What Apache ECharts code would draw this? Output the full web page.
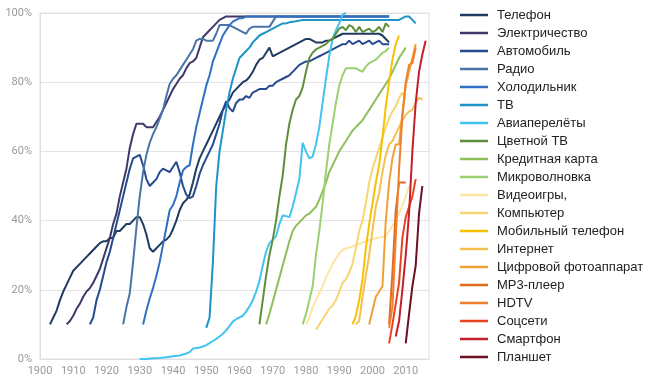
<!DOCTYPE html>
<html><head><meta charset="utf-8">
<script src="https://cdn.jsdelivr.net/npm/echarts@6/dist/echarts.min.js"></script>
<style>html,body{margin:0;padding:0;background:#fff}#c{width:653px;height:384px}</style>
</head><body><div id="c"></div>
<script>
const yTicks = ['0%','20%','40%','60%','80%','100%'];
const names = ['Телефон','Электричество','Автомобиль','Радио','Холодильник','ТВ','Авиаперелёты','Цветной ТВ','Кредитная карта','Микроволновка','Видеоигры,','Компьютер','Мобильный телефон','Интернет','Цифровой фотоаппарат','MP3-плеер','HDTV','Соцсети','Смартфон','Планшет'];
const colors = ['#1f3b60','#3d3a6a','#254a8e','#4a74a8','#2f6fc4','#1f93c8','#43c3ef','#5e8e3c','#8dc05a','#9bd070','#fbe6a4','#f6d673','#f6c200','#f4c050','#f2a036','#e06a1e','#f07f2e','#e8441f','#c41f2c','#6b1020'];

const telephone = [[1903,10],[1904,12],[1905,14],[1906,17],[1907,19.5],[1908,21.5],[1909,23.5],[1910,25.5],[1911,26.5],[1912,27.5],[1913,28.5],[1914,29.5],[1915,30.5],[1916,31.5],[1917,32.5],[1918,33.5],[1919,34],[1920,34],[1921,35],[1922,35],[1923,37],[1924,37],[1925,38],[1926,39],[1927,39],[1928,40],[1929,41],[1930,41],[1931,39],[1932,36],[1933,32],[1934,31],[1935,32],[1936,33],[1937,34],[1938,34.5],[1939,35.5],[1940,37.5],[1941,40],[1942,43],[1943,45],[1944,46],[1945,47.5],[1946,51],[1947,55],[1948,58],[1949,60],[1950,62],[1951,64],[1952,66],[1953,68],[1954,70],[1955,72],[1956,73.5],[1957,75],[1958,77],[1959,78],[1960,79],[1961,80],[1962,80.5],[1963,81.5],[1964,83],[1965,85],[1966,86.5],[1967,87],[1968,88.5],[1969,90],[1970,87.5],[1971,88],[1972,88.5],[1973,89],[1974,89.5],[1975,90],[1976,90.5],[1977,91],[1978,91.5],[1979,92],[1980,92.5],[1981,92.5],[1982,92],[1983,91.5],[1984,91.5],[1985,91.5],[1986,92],[1987,92],[1988,92.5],[1989,93],[1990,93.5],[1991,94],[1992,94],[1993,94],[1994,94],[1995,94],[1996,94],[1997,94],[1998,94],[1999,94],[2000,94],[2001,94],[2002,94],[2003,93.5],[2004,92.5],[2005,91.5]];
const electricity = [[1908,10],[1909,11],[1910,12.5],[1911,14.5],[1912,16],[1913,18],[1914,19.5],[1915,20.5],[1916,22],[1917,24],[1918,26],[1919,29],[1920,32],[1921,35],[1922,39],[1923,42],[1924,47],[1925,51],[1926,55],[1927,61],[1928,65],[1929,68],[1930,68],[1931,68],[1932,67],[1933,67],[1934,67],[1935,68.5],[1936,70],[1937,72],[1938,74],[1939,76],[1940,78],[1941,79.5],[1942,81],[1943,82],[1944,84],[1945,85.5],[1946,86],[1947,87],[1948,90],[1949,93],[1950,94],[1951,95],[1952,96],[1953,97],[1954,98],[1955,98.5],[1956,99],[1970,99],[1990,99],[2005,99]];
const automobile = [[1915,10],[1916,12],[1917,17],[1918,20],[1919,24],[1920,28],[1921,31],[1922,35],[1923,39],[1924,43],[1925,47],[1926,51],[1927,55],[1928,58],[1929,58.5],[1930,59],[1931,56],[1932,52],[1933,50],[1934,51],[1935,52],[1936,54],[1937,55],[1938,54.5],[1939,54],[1940,55.5],[1941,57],[1942,54],[1943,50],[1944,47.5],[1945,46.5],[1946,47],[1947,50],[1948,53.5],[1949,56],[1950,58],[1951,60],[1952,62],[1953,65],[1954,68],[1955,72],[1956,74.5],[1957,72.5],[1958,71.5],[1959,74],[1960,75],[1961,75],[1962,76],[1963,75.5],[1964,77],[1965,77.5],[1966,78],[1967,78],[1968,78],[1969,79],[1970,79],[1971,80],[1972,80.5],[1973,81],[1974,81.5],[1975,82],[1976,83],[1977,84],[1978,85],[1979,85.5],[1980,86],[1981,86],[1982,86.5],[1983,87],[1984,87.5],[1985,88],[1986,88.5],[1987,89],[1988,89.5],[1989,90],[1990,90.5],[1991,91],[1992,91],[1993,92],[1994,91],[1995,91.5],[1996,92],[1997,91],[1998,91.5],[1999,92],[2000,91],[2001,91.5],[2002,92],[2003,91],[2004,91],[2005,91]];
const radio = [[1925,10],[1926,15],[1927,19],[1928,28],[1929,38],[1930,47],[1931,54],[1932,59],[1933,62.5],[1934,65],[1935,67],[1936,69.5],[1937,72],[1938,76],[1939,79.5],[1940,81],[1941,82],[1942,83.5],[1943,85],[1944,86.5],[1945,88],[1946,89.5],[1947,92],[1948,92.5],[1949,92.5],[1950,92],[1951,92],[1952,92],[1953,94],[1954,96.5],[1955,96.5],[1956,96.5],[1957,96.5],[1958,96],[1959,95.5],[1960,95],[1961,94.5],[1962,94],[1963,95.5],[1964,96],[1969,96],[1970,97.5],[1971,99],[1990,99],[2005,99]];
const fridge = [[1931,10],[1932,14],[1933,17.5],[1934,20.5],[1935,24],[1936,28],[1937,33],[1938,38],[1939,43],[1940,44.5],[1941,47],[1942,51],[1943,54.5],[1944,55.5],[1945,56],[1946,62],[1947,67],[1948,71],[1949,75],[1950,79],[1951,82],[1952,86],[1953,88.5],[1954,91],[1955,93.5],[1956,95],[1957,96.5],[1958,97.5],[1959,98],[1960,98.5],[1961,98.5],[1962,99],[1980,99],[2005,99]];
const tv = [[1950,9],[1951,12],[1952,28],[1953,50],[1954,60],[1955,66],[1956,72],[1957,77],[1958,81],[1959,84],[1960,87],[1961,88],[1962,89],[1963,90],[1964,91.5],[1965,92.5],[1966,93.5],[1967,94],[1968,94.5],[1969,95],[1970,95.5],[1971,96],[1972,96.5],[1973,97],[1974,97],[1975,97.3],[1976,97.5],[1977,97.6],[1978,97.8],[1979,98],[1990,98],[2008,98],[2009,98.5],[2010,99],[2011,99],[2012,98],[2013,97]];
const airTravel = [[1930,0],[1932,0],[1934,0.2],[1936,0.3],[1938,0.5],[1940,0.8],[1942,1],[1943,1.3],[1944,1.6],[1945,2],[1946,3],[1947,3.2],[1948,3.3],[1949,3.6],[1950,4],[1951,4.6],[1952,5.2],[1953,5.8],[1954,6.5],[1955,7.3],[1956,8.3],[1957,9.5],[1958,10.8],[1959,11.5],[1960,12],[1961,12.5],[1962,13.7],[1963,15.2],[1964,17],[1965,19.5],[1966,22.5],[1967,27],[1968,31],[1969,33.5],[1970,34.5],[1971,35.5],[1972,39],[1973,41.5],[1974,41.3],[1975,41],[1976,44],[1977,48],[1978,52],[1979,62.5],[1980,60],[1981,58],[1982,58.5],[1983,62],[1984,67],[1985,74],[1986,81],[1987,87.5],[1988,92.5],[1989,95],[1990,97],[1991,99.5],[1992,100]];
const colorTv = [[1966,10],[1967,17],[1968,24],[1969,30],[1970,34.5],[1971,40],[1972,47],[1973,53],[1974,62],[1975,68],[1976,72],[1977,75],[1978,76],[1979,78.5],[1980,83],[1981,87],[1982,88.5],[1983,89.5],[1984,90],[1985,90.5],[1986,91],[1987,92],[1988,92.5],[1989,94],[1990,95.5],[1991,96],[1992,95],[1993,96.5],[1994,96],[1995,94.5],[1996,96],[1997,94.5],[1998,95],[1999,95.5],[2000,94.5],[2001,95],[2002,96],[2003,94.5],[2004,97],[2005,96]];
const creditCard = [[1968,10],[1969,13],[1970,16.5],[1971,20],[1972,23.5],[1973,27],[1974,30.5],[1975,34],[1976,37],[1977,38.5],[1978,39.5],[1979,40.5],[1980,41.5],[1981,42],[1982,43],[1983,44],[1984,46],[1985,48.5],[1986,51],[1987,54],[1988,56],[1989,58],[1990,60],[1991,61.5],[1992,63],[1993,64.5],[1994,66],[1995,67],[1996,68],[1997,69],[1998,70.5],[1999,72],[2000,73.5],[2001,75],[2002,76.5],[2003,78],[2004,79.5],[2005,81],[2006,83],[2007,85],[2008,87],[2009,88.5],[2010,90]];
const microwave = [[1979,10],[1980,13],[1981,17],[1982,21],[1983,30],[1984,37],[1985,45],[1986,54],[1987,62],[1988,68],[1989,74],[1990,79],[1991,82],[1992,84],[1993,84],[1994,84],[1995,84],[1996,83.5],[1997,83],[1998,84.5],[1999,85.5],[2000,86],[2001,86.5],[2002,87.5],[2003,88.5],[2004,89],[2005,90]];
const videoGames = [[1980,10],[1981,12],[1982,15],[1983,17],[1984,19],[1985,21],[1986,23.5],[1987,25.5],[1988,27.5],[1989,29],[1990,30.5],[1991,31.5],[1992,32],[1993,32.2],[1994,32.5],[1995,33],[1996,33.3],[1997,33.6],[1998,34],[1999,34.3],[2000,34.6],[2001,34.9],[2002,35.1],[2003,35.3],[2004,35.5],[2005,37],[2006,38.5],[2007,40],[2008,42],[2009,44.5],[2010,47],[2011,50]];
const computer = [[1983,8.5],[1984,10],[1985,11.5],[1986,13],[1987,14.5],[1988,15.5],[1989,17],[1990,19.5],[1991,22],[1992,23],[1993,25],[1994,27.5],[1995,32],[1996,37],[1997,40],[1998,45],[1999,51],[2000,55],[2001,58],[2002,61],[2003,64],[2004,67],[2005,69.5],[2006,71.5],[2007,73],[2008,75.5],[2009,77],[2010,75]];
const mobile = [[1994,10],[1995,12.5],[1996,17],[1997,23],[1998,32],[1999,39],[2000,45],[2001,51],[2002,56],[2003,64],[2004,73],[2005,80],[2006,86.5],[2007,91],[2008,93.5]];
const internet = [[1995,10],[1996,11],[1997,18],[1998,24],[1999,30],[2000,37],[2001,44],[2002,48],[2003,54],[2004,59],[2005,62],[2006,63],[2007,65],[2008,67],[2009,69],[2010,70.5],[2011,71.5],[2012,72],[2013,74],[2014,75.5],[2015,75]];
const camera = [[1999,10],[2000,14],[2001,18],[2002,19.5],[2003,21],[2004,40],[2005,51],[2006,58],[2007,62],[2008,62],[2009,71],[2010,79],[2011,83],[2012,87],[2013,91]];
const mp3 = [[2005,10],[2006,25],[2007,43],[2008,51],[2009,51],[2010,51]];
const hdtv = [[2005,9],[2006,15],[2007,35],[2008,55],[2009,70],[2010,80],[2011,85],[2012,85.5],[2013,90]];
const social = [[2005,4.5],[2006,10],[2007,16],[2008,22],[2009,35],[2010,41],[2011,44],[2012,47],[2013,52]];
const smartphone = [[2007,6.5],[2008,11],[2009,20],[2010,30],[2011,42],[2012,60],[2013,74],[2014,83],[2015,88],[2016,92]];
const tablet = [[2010,4.5],[2011,13],[2012,21],[2013,27],[2014,42],[2015,50]];

const seriesData = [telephone,electricity,automobile,radio,fridge,tv,airTravel,colorTv,creditCard,microwave,videoGames,computer,mobile,internet,camera,mp3,hdtv,social,smartphone,tablet];

const chart = echarts.init(document.getElementById('c'), null, {renderer:'canvas'});
chart.setOption({
  animation:false,
  backgroundColor:'#fff',
  color: colors,
  grid:{left:40,right:224,top:13,bottom:25,show:true,borderColor:'#dedede',borderWidth:1},
  legend:{
    orient:'vertical', left:455, top:3,
    icon:'rect', itemWidth:28, itemHeight:2.5, itemGap:4,
    textStyle:{fontFamily:'Liberation Sans, Arial, sans-serif', fontSize:13, color:'#222', lineHeight:14, padding:[0,0,0,4]},
    data:names
  },
  xAxis:{
    type:'value', min:1900, max:2017, interval:10,
    axisLine:{show:true,lineStyle:{color:'#dedede'}},
    axisTick:{show:false},
    splitLine:{show:false},
    axisLabel:{color:'#9a9a9a',fontSize:11,fontFamily:'Roboto, sans-serif',showMaxLabel:false,margin:7,formatter:v=>String(v)}
  },
  yAxis:{
    type:'value', min:0, max:100, interval:20,
    axisLine:{show:true,lineStyle:{color:'#dedede'}},
    axisTick:{show:false},
    splitLine:{lineStyle:{color:'#e3e3e3'}},
    axisLabel:{color:'#9a9a9a',fontSize:11,fontFamily:'Roboto, sans-serif',margin:8,formatter:v=>yTicks[v/20]}
  },
  series: names.map((n,i)=>({
    name:n, type:'line', data:seriesData[i], symbol:'none', showSymbol:false,
    lineStyle:{width:2,color:colors[i]}, itemStyle:{color:colors[i]}
  }))
});
</script></body></html>
